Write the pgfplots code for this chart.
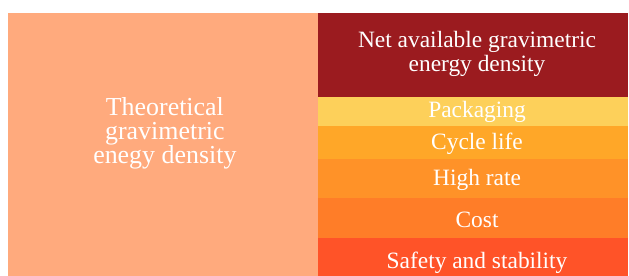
\documentclass[border=0pt]{standalone}
\usepackage{fontspec}
\setmainfont{Liberation Serif}
\usepackage{pgfplots}
\pgfplotsset{compat=1.18}
\definecolor{cTheo}{HTML}{FFAA7D}
\definecolor{cNet}{HTML}{9B1B1F}
\definecolor{cPack}{HTML}{FDD05A}
\definecolor{cCycle}{HTML}{FFA728}
\definecolor{cRate}{HTML}{FF9228}
\definecolor{cCost}{HTML}{FF7D28}
\definecolor{cSafe}{HTML}{FF5328}
\tikzset{lbl/.style={anchor=base, text=white, inner sep=0pt, font=\fontsize{23.5}{28}\selectfont}}
\tikzset{lblL/.style={anchor=base, text=white, inner sep=0pt, font=\fontsize{26}{30}\selectfont}}
\begin{document}
\begin{tikzpicture}
\begin{axis}[
  width=629bp, height=276bp, scale only axis,
  xmin=-0.5258, xmax=1.5032, ymin=0, ymax=276,
  axis line style={draw=none}, ticks=none,
  ybar stacked, bar width=1,
  every axis plot/.append style={draw=none},
  clip=false,
]
\addplot[fill=cTheo] coordinates {(0,263) (1,0)};
\addplot[fill=cSafe] coordinates {(0,0) (1,38)};
\addplot[fill=cCost] coordinates {(0,0) (1,40)};
\addplot[fill=cRate] coordinates {(0,0) (1,39)};
\addplot[fill=cCycle] coordinates {(0,0) (1,33)};
\addplot[fill=cPack] coordinates {(0,0) (1,29)};
\addplot[fill=cNet] coordinates {(0,0) (1,84)};
\coordinate (T1) at (axis cs:0.006,160);
\coordinate (T2) at (axis cs:0.006,136);
\coordinate (T3) at (axis cs:0.006,112);
\coordinate (N1) at (axis cs:1.013,228);
\coordinate (N2) at (axis cs:1.013,204);
\coordinate (P) at (axis cs:1.013,158);
\coordinate (C) at (axis cs:1.013,126);
\coordinate (H) at (axis cs:1.013,90);
\coordinate (K) at (axis cs:1.013,48);
\coordinate (S) at (axis cs:1.013,8);
\end{axis}
\node[lblL] at (T1) {Theoretical};
\node[lblL] at (T2) {gravimetric};
\node[lblL] at (T3) {enegy density};
\node[lbl] at (N1) {Net available gravimetric};
\node[lbl] at (N2) {energy density};
\node[lbl] at (P) {Packaging};
\node[lbl] at (C) {Cycle life};
\node[lbl] at (H) {High rate};
\node[lbl] at (K) {Cost};
\node[lbl] at (S) {Safety and stability};
\end{tikzpicture}
\end{document}
